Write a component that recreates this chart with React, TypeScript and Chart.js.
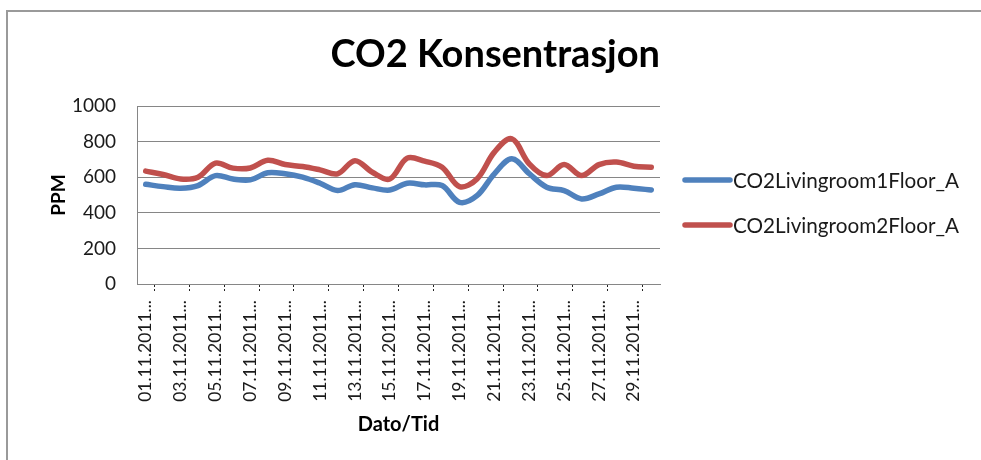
import React, { useEffect, useRef } from "react";
import { Chart, registerables } from "chart.js";

Chart.register(...registerables);

const days: string[] = [
  "01", "02", "03", "04", "05", "06", "07", "08", "09", "10",
  "11", "12", "13", "14", "15", "16", "17", "18", "19", "20",
  "21", "22", "23", "24", "25", "26", "27", "28", "29", "30",
];
const categories: string[] = days.map((d) => `${d}.11.2011...`);

const floor1Values: number[] = [
  560, 547, 538, 553, 609, 590, 585, 625, 619, 600,
  566, 525, 558, 540, 528, 566, 557, 553, 459, 496,
  619, 703, 620, 544, 525, 478, 506, 544, 538, 528,
];
const floor2Values: number[] = [
  634, 615, 590, 600, 679, 651, 652, 695, 671, 660,
  641, 619, 693, 628, 590, 707, 690, 656, 547, 590,
  741, 816, 675, 609, 671, 609, 671, 685, 662, 656,
];
const seriesNames: string[] = ["CO2Livingroom1Floor_A", "CO2Livingroom2Floor_A"];
const seriesColors: string[] = ["#4F81BD", "#C0504D"];
const yTicks: number[] = [0, 200, 400, 600, 800, 1000];

const FONT = "Lato, 'Open Sans', sans-serif";

const legendPlugin = {
  id: "sideLegend",
  afterDraw(chart: any) {
    const { ctx } = chart;
    ctx.save();
    const x0 = 685;
    const x1 = 730;
    const ys = [180, 225];
    chart.data.datasets.forEach((ds: any, i: number) => {
      const y = ys[i];
      ctx.strokeStyle = ds.borderColor;
      ctx.lineWidth = 5.5;
      ctx.lineCap = "round";
      ctx.beginPath();
      ctx.moveTo(x0, y);
      ctx.lineTo(x1, y);
      ctx.stroke();
      ctx.fillStyle = "#1a1a1a";
      ctx.font = `20.7px ${FONT}`;
      ctx.textBaseline = "middle";
      ctx.textAlign = "left";
      ctx.fillText(ds.label, x1 + 3, y + 1);
    });
    ctx.restore();
  },
};

export default function App() {
  const ref = useRef<HTMLCanvasElement | null>(null);

  useEffect(() => {
    if (!ref.current) return;
    const chart = new Chart(ref.current, {
      type: "line",
      data: {
        labels: categories,
        datasets: [
          {
            label: seriesNames[0],
            data: floor1Values,
            borderColor: seriesColors[0],
            backgroundColor: seriesColors[0],
            borderWidth: 5.5,
            pointRadius: 0,
            tension: 0.35,
            borderCapStyle: "round",
            borderJoinStyle: "round",
          },
          {
            label: seriesNames[1],
            data: floor2Values,
            borderColor: seriesColors[1],
            backgroundColor: seriesColors[1],
            borderWidth: 5.5,
            pointRadius: 0,
            tension: 0.35,
            borderCapStyle: "round",
            borderJoinStyle: "round",
          },
        ],
      },
      options: {
        animation: false,
        responsive: false,
        maintainAspectRatio: false,
        layout: { padding: { left: 0, top: 0, right: 321, bottom: 0 } },
        plugins: {
          legend: { display: false },
          tooltip: { enabled: false },
          title: {
            display: true,
            text: "CO2 Konsentrasjon",
            color: "#000",
            align: "end",
            font: { family: FONT, size: 38, weight: "bold", lineHeight: 1.2 },
            padding: { top: 32, bottom: 28.4 },
          },
        },
        scales: {
          x: {
            type: "category",
            offset: true,
            afterFit(scale: any) {
              scale.height = 176;
            },
            grid: {
              offset: true,
              drawOnChartArea: false,
              drawTicks: true,
              tickLength: 8,
              tickBorderDash: [2, 2],
              tickColor: (c: any) => (c.index % 2 === 1 ? "#222" : "rgba(0,0,0,0)"),
              color: "rgba(0,0,0,0)",
            },
            border: { display: true, color: "#868686", width: 1 },
            ticks: {
              autoSkip: false,
              maxRotation: 90,
              minRotation: 90,
              padding: 8,
              color: "#1a1a1a",
              font: { family: FONT, size: 17.5 },
              callback: (_v: any, i: number) => (i % 2 === 0 ? categories[i] : ""),
            },
            title: {
              display: true,
              text: "Dato/Tid",
              color: "#000",
              font: { family: FONT, size: 20, weight: "bold", lineHeight: 1.2 },
              padding: { top: 0, bottom: 23 },
            },
          },
          y: {
            min: 0,
            max: 1000,
            afterFit(scale: any) {
              scale.width = 137;
            },
            afterBuildTicks(scale: any) {
              scale.ticks = yTicks.map((v) => ({ value: v }));
            },
            grid: {
              color: "#868686",
              lineWidth: 1,
              drawTicks: false,
            },
            border: { display: true, color: "#868686", width: 1 },
            ticks: {
              padding: 21,
              color: "#1a1a1a",
              font: { family: FONT, size: 19 },
              callback: (v: any) => String(v),
            },
            title: {
              display: true,
              text: "PPM",
              color: "#000",
              font: { family: FONT, size: 19, weight: "bold", lineHeight: 1.2 },
              padding: { top: 47, bottom: 0 },
            },
          },
        },
      },
      plugins: [legendPlugin],
    });
    return () => chart.destroy();
  }, []);

  return (
    <div
      style={{
        position: "fixed",
        left: 0,
        top: 0,
        width: 981,
        height: 460,
        overflow: "hidden",
        background: "#fff",
      }}
    >
      <div
        style={{
          position: "absolute",
          left: 6,
          top: 10,
          width: 3000,
          height: 3000,
          borderLeft: "2px solid #9a9a9a",
          borderTop: "2px solid #9a9a9a",
        }}
      />
      <canvas
        ref={ref}
        width={981}
        height={460}
        style={{ position: "absolute", left: 0, top: 0, width: 981, height: 460 }}
      />
    </div>
  );
}
